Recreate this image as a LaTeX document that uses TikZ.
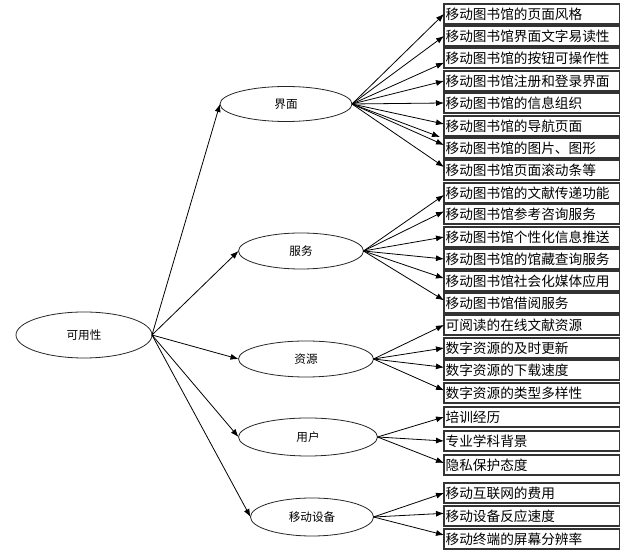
\documentclass[tikz,border=0pt]{standalone}
\usepackage{fontspec}
\setmainfont{Noto Sans CJK SC}
\usetikzlibrary{shapes.geometric,arrows.meta}
\begin{document}
\begin{tikzpicture}[x=0.75pt,y=-0.75pt,
  ell/.style={ellipse,draw=black!85,line width=0.6pt,inner sep=0pt,outer sep=0pt,font=\fontsize{8.7pt}{10pt}\selectfont},
  item/.style={rectangle,draw=black!80,line width=0.9pt,anchor=west,inner xsep=1.2pt,inner ysep=0pt,outer sep=0pt,
    text width=129.5pt,align=left,minimum height=15pt,font=\fontsize{10.25pt}{12pt}\selectfont},
  arr/.style={-{Latex[length=6pt,width=4.5pt]},line width=0.6pt,black}]
\useasboundingbox (0,0) rectangle (640,555);
% ellipses
\node[ell,minimum width=102pt,minimum height=34.5pt] (root) at (84,335) {可用性};
\node[ell,minimum width=99pt,minimum height=26.25pt] (jm) at (286,104) {界面};
\node[ell,minimum width=93.75pt,minimum height=27pt] (fw) at (301,251) {服务};
\node[ell,minimum width=101.25pt,minimum height=27pt] (zy) at (306,359) {资源};
\node[ell,minimum width=104.25pt,minimum height=28.5pt] (yh) at (308,437) {用户};
\node[ell,minimum width=92.25pt,minimum height=28.5pt] (sb) at (312,517) {移动设备};
% boxes
\node[item] (b1) at (444,14) {移动图书馆的页面风格};
\node[item] (b2) at (444,36) {移动图书馆界面文字易读性};
\node[item] (b3) at (444,58) {移动图书馆的按钮可操作性};
\node[item] (b4) at (444,81) {移动图书馆注册和登录界面};
\node[item] (b5) at (444,103) {移动图书馆的信息组织};
\node[item] (b6) at (444,126) {移动图书馆的导航页面};
\node[item] (b7) at (444,148) {移动图书馆的图片、图形};
\node[item] (b8) at (444,170) {移动图书馆页面滚动条等};
\node[item] (b9) at (444,193) {移动图书馆的文献传递功能};
\node[item] (b10) at (444,214) {移动图书馆参考咨询服务};
\node[item] (b11) at (444,237) {移动图书馆个性化信息推送};
\node[item] (b12) at (444,259) {移动图书馆的馆藏查询服务};
\node[item] (b13) at (444,281) {移动图书馆社会化媒体应用};
\node[item] (b14) at (444,303) {移动图书馆借阅服务};
\node[item] (b15) at (444,325) {可阅读的在线文献资源};
\node[item] (b16) at (444,348) {数字资源的及时更新};
\node[item] (b17) at (444,370) {数字资源的下载速度};
\node[item] (b18) at (444,393) {数字资源的类型多样性};
\node[item] (b19) at (444,417) {培训经历};
\node[item] (b20) at (444,441) {专业学科背景};
\node[item] (b21) at (444,465) {隐私保护态度};
\node[item] (b22) at (444,493) {移动互联网的费用};
\node[item] (b23) at (444,516) {移动设备反应速度};
\node[item] (b24) at (444,539) {移动终端的屏幕分辨率};
\coordinate (gap) at (440,137);
% root arrows
\foreach \c in {jm,fw,zy,yh,sb} \draw[arr] (root.east) -- (\c.west);
% interface
\draw[arr] (jm.east) -- (b1.west);
\draw[arr] (jm.east) -- (b2.west);
\draw[arr] (jm.east) -- ([yshift=-3.5pt]b3.west);
\draw[arr] (jm.east) -- (b4.west);
\draw[arr] (jm.east) -- (b5.west);
\draw[arr] (jm.east) -- ([yshift=1.5pt]b6.west);
\draw[arr] (jm.east) -- (gap);
\draw[arr] (jm.east) -- ([yshift=2.25pt]b7.west);
\draw[arr] (jm.east) -- ([yshift=2.25pt]b8.west);
% service
\draw[arr] (fw.east) -- ([yshift=-1.5pt]b9.west);
\draw[arr] (fw.east) -- ([yshift=2pt]b10.west);
\draw[arr] (fw.east) -- (b11.west);
\draw[arr] (fw.east) -- (b12.west);
\draw[arr] (fw.east) -- ([yshift=2pt]b13.west);
\draw[arr] (fw.east) -- ([yshift=2pt]b14.west);
% resources
\draw[arr] (zy.east) -- (b15.west);
\draw[arr] (zy.east) -- (b16.west);
\draw[arr] (zy.east) -- ([yshift=2pt]b17.west);
\draw[arr] (zy.east) -- ([yshift=2pt]b18.west);
% users
\draw[arr] (yh.east) -- (b19.west);
\draw[arr] (yh.east) -- (b20.west);
\draw[arr] (yh.east) -- ([yshift=1.5pt]b21.west);
% device
\draw[arr] (sb.east) -- (b22.west);
\draw[arr] (sb.east) -- ([yshift=2pt]b23.west);
\draw[arr] (sb.east) -- ([yshift=3pt]b24.west);
\end{tikzpicture}
\end{document}
